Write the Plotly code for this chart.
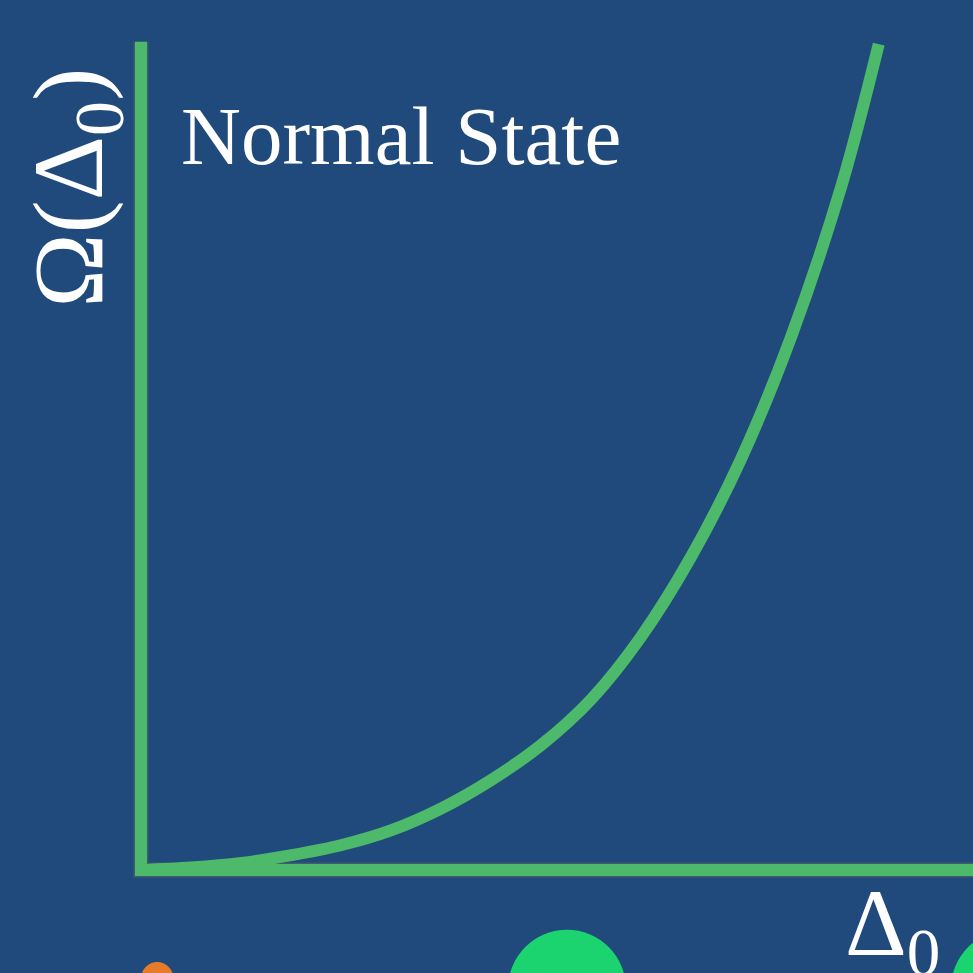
import plotly.graph_objects as go

# Ω(Δ0) curve for the normal state, read as (Δ0, Ω) pairs
delta0 = [0.0, 0.68, 1.36, 2.04, 2.71, 3.39, 4.07, 4.75, 5.43, 6.11, 6.78,
          7.46, 8.14, 8.82, 9.50, 10.01]
omega = [0.0, 0.03, 0.085, 0.18, 0.30, 0.48, 0.745, 1.09, 1.515, 2.07, 2.82,
         3.79, 4.98, 6.46, 8.28, 10.01]

# hand-drawn axes: vertical arm up to the top, horizontal arm to the right edge
axis_x = [0.0, 0.0, 11.4]
axis_y = [10.04, 0.0, 0.0]

# decorative dots along the bottom edge (centre in data units, radius in px)
dot_x = [0.22, 5.78, 11.79]
dot_y = [-1.31, -1.44, -1.44]
dot_radius = [16, 59, 59]
dot_color = ["#E67C29", "#1BD46F", "#1BD46F"]

BG = "#204A7B"
LINE = "#4DB96A"
EDGE = "#3F5C70"
FONT = "Liberation Serif"

fig = go.Figure()

# axes: thin slate edge under the green stroke
fig.add_trace(go.Scatter(
    x=axis_x, y=axis_y, mode="lines",
    line=dict(color=EDGE, width=15),
    hoverinfo="skip", showlegend=False, cliponaxis=False,
))
fig.add_trace(go.Scatter(
    x=axis_x, y=axis_y, mode="lines",
    line=dict(color=LINE, width=12),
    hoverinfo="skip", showlegend=False, cliponaxis=False,
))

fig.add_trace(go.Scatter(
    x=delta0, y=omega, mode="lines",
    line=dict(color=LINE, width=12, shape="spline", smoothing=1.0),
    showlegend=False, cliponaxis=False,
))

for cx, cy, r, c in zip(dot_x, dot_y, dot_radius, dot_color):
    fig.add_shape(
        type="circle", xref="x", yref="y",
        xsizemode="pixel", ysizemode="pixel",
        xanchor=cx, yanchor=cy, x0=-r, x1=r, y0=-r, y1=r,
        fillcolor=c, line=dict(width=0), layer="above",
    )

fig.add_annotation(
    x=0.52, y=8.9, xref="x", yref="y", text="Normal State",
    showarrow=False, xanchor="left", yanchor="middle",
    font=dict(family=FONT, size=83, color="white"),
)

fig.add_annotation(
    x=-0.88, y=8.27, xref="x", yref="y", text="Ω(Δ<sub>0</sub>)",
    showarrow=False, textangle=-90, xanchor="center", yanchor="middle",
    font=dict(family=FONT, size=100, color="white"),
)

fig.add_annotation(
    x=10.2, y=-0.72, xref="x", yref="y", text="Δ<sub>0</sub>",
    showarrow=False, xanchor="center", yanchor="middle",
    font=dict(family=FONT, size=96, color="white"),
)

fig.update_layout(
    width=973, height=973,
    margin=dict(l=0, r=0, t=0, b=0),
    paper_bgcolor=BG, plot_bgcolor=BG,
    xaxis=dict(range=[-1.913, 11.289], visible=False, fixedrange=True),
    yaxis=dict(range=[-1.248, 10.545], visible=False, fixedrange=True),
    showlegend=False,
)

fig.write_html("out.html")
